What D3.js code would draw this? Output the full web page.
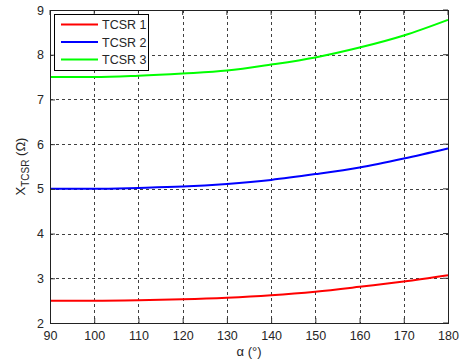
<!DOCTYPE html>
<html>
<head>
<meta charset="utf-8">
<script src="https://cdn.jsdelivr.net/npm/d3@7"></script>
<style>
  html, body { margin: 0; padding: 0; background: #fff; }
  svg { display: block; font-family: Arial, "Liberation Sans", sans-serif; }
</style>
</head>
<body>
<svg id="chart" width="461" height="361"></svg>
<script>
// Firing angle (degrees)
const alpha = [90, 100, 110, 120, 130, 140, 150, 160, 170, 180];
// TCSR reactance (ohm) for three configurations
const tcsr1 = [2.50, 2.50, 2.51, 2.53, 2.565, 2.62, 2.70, 2.81, 2.93, 3.07];
const tcsr2 = [5.00, 5.00, 5.02, 5.05, 5.11, 5.20, 5.33, 5.48, 5.68, 5.905];
const tcsr3 = [7.50, 7.50, 7.53, 7.58, 7.645, 7.78, 7.94, 8.16, 8.43, 8.78];
const seriesNames = ["TCSR 1", "TCSR 2", "TCSR 3"];
const seriesColors = ["#ff0000", "#0000ff", "#00ff00"];
const xTicks = [90, 100, 110, 120, 130, 140, 150, 160, 170, 180];
const yTicks = [2, 3, 4, 5, 6, 7, 8, 9];

const svg = d3.select("#chart");
const m = { left: 50, top: 10, right: 448, bottom: 323 };

const x = d3.scaleLinear().domain([90, 180]).range([m.left, m.right]);
const y = d3.scaleLinear().domain([2, 9]).range([m.bottom, m.top]);

const textColor = "#262626";

// grid
const grid = svg.append("g")
  .attr("stroke", "#000")
  .attr("stroke-width", 1)
  .attr("stroke-dasharray", "3,3")
  .attr("stroke-opacity", 0.75);
xTicks.slice(1, -1).forEach(t => {
  grid.append("line")
    .attr("x1", Math.round(x(t)) + 0.5).attr("x2", Math.round(x(t)) + 0.5)
    .attr("y1", m.top).attr("y2", m.bottom);
});
yTicks.slice(1, -1).forEach(t => {
  grid.append("line")
    .attr("y1", Math.round(y(t)) + 0.5).attr("y2", Math.round(y(t)) + 0.5)
    .attr("x1", m.left).attr("x2", m.right);
});

// data lines
const line = d3.line()
  .x((d, i) => x(alpha[i]))
  .y(d => y(d))
  .curve(d3.curveMonotoneX);
[tcsr1, tcsr2, tcsr3].forEach((s, k) => {
  svg.append("path")
    .datum(s)
    .attr("d", line)
    .attr("fill", "none")
    .attr("stroke", seriesColors[k])
    .attr("stroke-width", 2);
});

// axes
const fmt = d3.format("d");
const xAxis = svg.append("g")
  .attr("transform", `translate(0,${m.bottom})`)
  .call(d3.axisBottom(x).tickValues(xTicks).tickFormat(fmt).tickSize(-5).tickPadding(8));
const yAxis = svg.append("g")
  .attr("transform", `translate(${m.left},0)`)
  .call(d3.axisLeft(y).tickValues(yTicks).tickFormat(fmt).tickSize(-5).tickPadding(6));
[xAxis, yAxis].forEach(g => {
  g.select(".domain").remove();
  g.selectAll(".tick line").attr("stroke", "#333");
  g.selectAll(".tick text")
    .attr("fill", textColor)
    .style("font-size", "12.5px")
    .style("font-family", "Arial, 'Liberation Sans', sans-serif");
});
// top/right tick marks
const tickG = svg.append("g").attr("stroke", "#333");
xTicks.forEach(t => {
  tickG.append("line").attr("x1", x(t)).attr("x2", x(t)).attr("y1", m.top).attr("y2", m.top + 5);
});
yTicks.forEach(t => {
  tickG.append("line").attr("y1", y(t)).attr("y2", y(t)).attr("x1", m.right).attr("x2", m.right - 5);
});

// frame
svg.append("rect")
  .attr("x", m.left + 0.5).attr("y", m.top + 0.5)
  .attr("width", m.right - m.left).attr("height", m.bottom - m.top)
  .attr("fill", "none").attr("stroke", "#222").attr("stroke-width", 1);

// axis labels
svg.append("text")
  .attr("x", (m.left + m.right) / 2).attr("y", 356)
  .attr("text-anchor", "middle")
  .attr("fill", textColor)
  .style("font-size", "13px")
  .text("α (°)");

const yl = svg.append("text")
  .attr("transform", `translate(25,${(m.top + m.bottom) / 2}) rotate(-90)`)
  .attr("text-anchor", "middle")
  .attr("fill", textColor)
  .style("font-size", "13px");
yl.append("tspan").text("X");
yl.append("tspan").attr("dy", 4).style("font-size", "10px").text("TCSR");
yl.append("tspan").attr("dy", -4).text(" (Ω)");

// legend
const lg = svg.append("g");
lg.append("rect")
  .attr("x", 54.5).attr("y", 14.5).attr("width", 94).attr("height", 56)
  .attr("fill", "#fff").attr("stroke", "#000").attr("stroke-width", 1);
seriesNames.forEach((name, i) => {
  const yy = 24.5 + i * 17.5;
  lg.append("line")
    .attr("x1", 61).attr("x2", 98).attr("y1", yy).attr("y2", yy)
    .attr("stroke", seriesColors[i]).attr("stroke-width", 2);
  lg.append("text")
    .attr("x", 102).attr("y", yy + 4.5)
    .attr("fill", textColor)
    .style("font-size", "12.5px")
    .text(name);
});
</script>
</body>
</html>
